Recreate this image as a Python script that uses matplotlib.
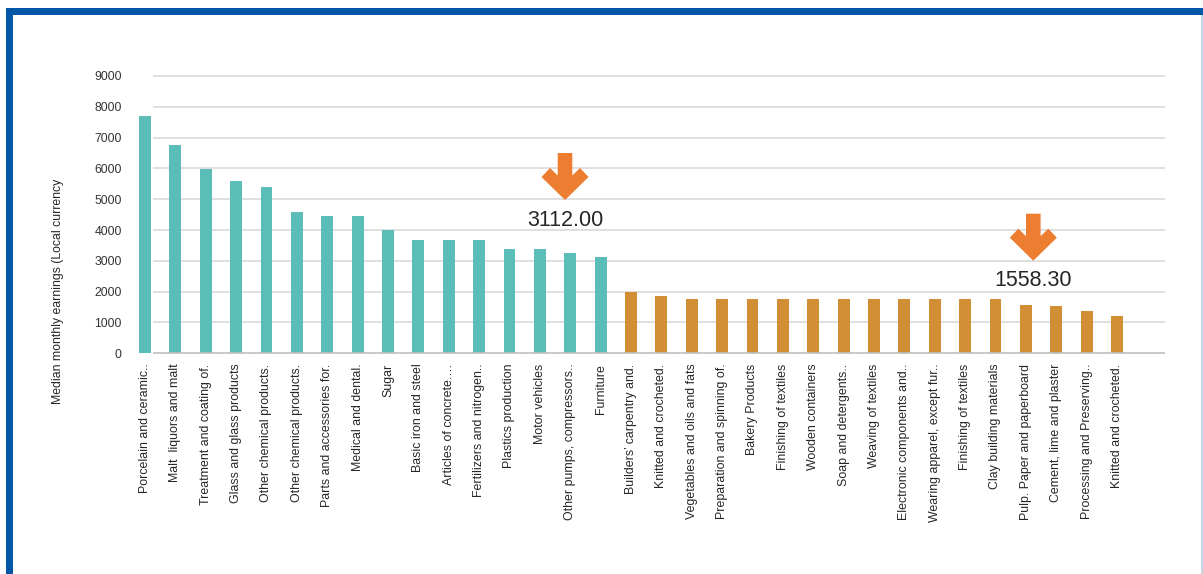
import matplotlib
matplotlib.use("Agg")
import matplotlib.pyplot as plt
from matplotlib.patches import Polygon, Rectangle

plt.rcParams['font.family'] = ['Liberation Sans', 'DejaVu Sans']

# industries above the median (teal) and below it (orange)
high_labels = ["Porcelain and ceramic..", "Malt  liquors and malt", "Treatment and coating of.",
               "Glass and glass products", "Other chemical products.", "Other chemical products.",
               "Parts and accessories for.", "Medical and dental.", "Sugar", "Basic iron and steel",
               "Articles of concrete.\u2026", "Fertilizers and nitrogen..", "Plastics production",
               "Motor vehicles", "Other pumps, compressors..", "Furniture"]
high_values = [7700, 6760, 5980, 5590, 5400, 4590, 4460, 4460, 4000, 3680,
               3680, 3680, 3385, 3385, 3250, 3112]

low_labels = ["Builders\u2019 carpentry and.", "Knitted and crocheted.", "Vegetables and oils and fats",
              "Preparation and spinning of.", "Bakery Products", "Finishing of textiles",
              "Wooden containers", "Soap and detergents..", "Weaving of textiles",
              "Electronic components and..", "Wearing apparel, except fur..", "Finishing of textiles",
              "Clay building materials", "Pulp. Paper and paperboard", "Cement, lime and plaster",
              "Processing and Preserving..", "Knitted and crocheted."]
low_values = [2000, 1850, 1750, 1750, 1750, 1750, 1750, 1750, 1750, 1750,
              1750, 1750, 1750, 1558.3, 1550, 1370, 1210]

yticks = [0, 1000, 2000, 3000, 4000, 5000, 6000, 7000, 8000, 9000]
median_notes = ["3112.00", "1558.30"]

W, H = 1203, 574
fig = plt.figure(figsize=(W / 100, H / 100), dpi=100)

# axes box in pixels: x 130..1165, y 76..353.3
ax = fig.add_axes([130 / W, 1 - 353.3 / H, (1165 - 130) / W, (353.3 - 76) / H])

n_hi = len(high_values)
x_hi = list(range(n_hi))
x_lo = list(range(n_hi, n_hi + len(low_values)))
step = 30.375
ax.set_xlim((130 - 145) / step, (1165 - 145) / step)
ax.set_ylim(0, 9000)

grid_start = (153 - 145) / step
ax.hlines(yticks[1:], grid_start, ax.get_xlim()[1], color="#d9d9d9", lw=1.2, clip_on=False, zorder=0)
ax.hlines(0, grid_start, ax.get_xlim()[1], color="#bfbfbf", lw=1.2, clip_on=False, zorder=3)

ax.bar(x_hi, high_values, width=0.395, color="#5bbdb7", zorder=2)
ax.bar(x_lo, low_values, width=0.395, color="#d18e34", zorder=2)

for s in ax.spines.values():
    s.set_visible(False)
ax.set_yticks(yticks)
ax.set_yticklabels([str(v) for v in yticks], fontsize=8.8, color="#333333")
ax.set_xticks(x_hi + x_lo)
ax.set_xticklabels(high_labels + low_labels, rotation=90, fontsize=8.9, color="#262626", va="top")
ax.tick_params(axis="both", length=0)
ax.tick_params(axis="y", pad=6)
ax.tick_params(axis="x", pad=7.5)

fig.text(58 / W, 1 - 291 / H, "Median monthly earnings (Local currency", rotation=90,
         ha="center", va="center", fontsize=8.8, color="#262626")

# orange down arrows with the median values
arrow_shape = [(0, 0), (-23.5, -23), (-15, -32), (-7.3, -24.5), (-7.3, -47), (7.3, -47),
               (7.3, -24.5), (15, -32), (23.5, -23)]
for (tx, ty), note in zip([(565, 200), (1033.3, 260.7)], median_notes):
    pts = [((tx + dx) / W, 1 - (ty + dy) / H) for dx, dy in arrow_shape]
    fig.patches.append(Polygon(pts, closed=True, transform=fig.transFigure,
                               facecolor="#ed7d31", edgecolor="none"))
    fig.text(tx / W, 1 - (ty + 20) / H, note, ha="center", va="center",
             fontsize=15.5, color="#262626")

# blue frame
fig.patches.append(Rectangle((6 / W, 1 - 15 / H), (W - 6) / W, 6.7 / H,
                             transform=fig.transFigure, facecolor="#0057a8", edgecolor="none"))
fig.patches.append(Rectangle((6 / W, 0), 6.7 / W, 1 - 8.3 / H,
                             transform=fig.transFigure, facecolor="#0057a8", edgecolor="none"))
fig.patches.append(Rectangle((1201 / W, 0), 1.5 / W, 1 - 15 / H,
                             transform=fig.transFigure, facecolor="#c5d8ec", edgecolor="none"))

fig.savefig("out.png", dpi=100)
